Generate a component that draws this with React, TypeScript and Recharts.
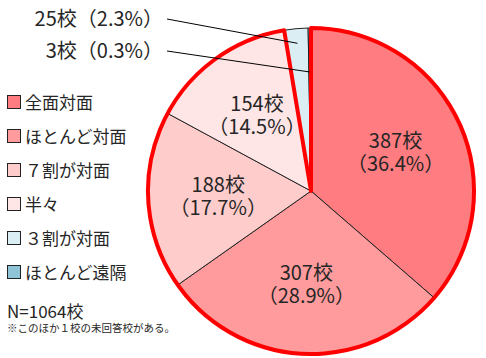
import React from "react";
import { PieChart, Pie, Cell } from "recharts";

const categories = ["全面対面", "ほとんど対面", "７割が対面", "半々", "３割が対面", "ほとんど遠隔"];
const counts = [387, 307, 188, 154, 25, 3];
const percents = ["36.4", "28.9", "17.7", "14.5", "2.3", "0.3"];
const colors = ["#FF7C80", "#FF9B9C", "#FFCCCC", "#FFE6E6", "#DAEEF3", "#8FC4D6"];
const total = 1064;
const note = "※このほか１校の未回答校がある。";

const data = categories.map((name, i) => ({
  name,
  value: counts[i],
  pct: percents[i],
  fill: colors[i],
}));

// red outline wraps the four "mostly face-to-face" slices as one group
const groupData = [
  { name: "対面系", value: counts.slice(0, 4).reduce((a, b) => a + b, 0) },
  { name: "遠隔系", value: counts.slice(4).reduce((a, b) => a + b, 0) },
];

const RADIAN = Math.PI / 180;
const FONT = "'Noto Sans CJK JP', 'Noto Sans', sans-serif";

const renderLabel = ({ cx, cy, midAngle, outerRadius, index, value, payload }: any) => {
  const txt = "#262626";
  if (index < 4) {
    const r = outerRadius * 0.57;
    const x = cx + r * Math.cos(-midAngle * RADIAN);
    const y = cy + r * Math.sin(-midAngle * RADIAN);
    return (
      <g>
        <text x={x} y={y - 4} fill={txt} textAnchor="middle" fontSize={20} fontFamily={FONT}>
          {`${value}校`}
        </text>
        <text x={x} y={y + 19} fill={txt} textAnchor="middle" fontSize={20} fontFamily={FONT}>
          {`（${payload.pct}%）`}
        </text>
      </g>
    );
  }
  // small slices: label sits up-left with a leader line
  const k = index - 4;
  const r = outerRadius * (k === 0 ? 0.91 : 0.73);
  const ex = cx + r * Math.cos(-midAngle * RADIAN);
  const ey = cy + r * Math.sin(-midAngle * RADIAN);
  const tx = cx - 146;
  const ty = cy - 172 + k * 32;
  return (
    <g>
      <line x1={tx + 2} y1={ty} x2={ex} y2={ey} stroke="#000" strokeWidth={1} />
      <text x={tx - 2} y={ty + 7} fill={txt} textAnchor="end" fontSize={20} fontFamily={FONT}>
        {`${value}校（${payload.pct}%）`}
      </text>
    </g>
  );
};

const LegendBox = () => (
  <div style={{ position: "absolute", left: 7, top: 85, fontFamily: FONT, color: "#262626" }}>
    {data.map((d, i) => (
      <div key={i} style={{ display: "flex", alignItems: "center", height: 34 }}>
        <div
          style={{
            width: 12,
            height: 12,
            background: d.fill,
            border: "1px solid #222",
            marginRight: 4,
          }}
        />
        <span style={{ fontSize: 17, lineHeight: "20px" }}>{d.name}</span>
      </div>
    ))}
    <div style={{ fontSize: 17, marginTop: 12, lineHeight: "20px" }}>{`N=${total}校`}</div>
    <div style={{ fontSize: 10.5, lineHeight: "14px", whiteSpace: "nowrap" }}>{note}</div>
  </div>
);

export default function App() {
  return (
    <div style={{ position: "absolute", left: 0, top: 0, width: 486, height: 358, background: "#fff" }}>
      <PieChart width={486} height={358} margin={{ top: 0, right: 0, bottom: 0, left: 0 }}>
        <Pie
          data={data}
          dataKey="value"
          cx={311}
          cy={191}
          outerRadius={163}
          startAngle={90}
          endAngle={-270}
          stroke="#222"
          strokeWidth={1}
          labelLine={false}
          label={renderLabel}
          isAnimationActive={false}
        >
          {data.map((d, i) => (
            <Cell key={i} fill={d.fill} />
          ))}
        </Pie>
        <Pie
          data={groupData}
          dataKey="value"
          cx={311}
          cy={191}
          outerRadius={163}
          startAngle={90}
          endAngle={-270}
          isAnimationActive={false}
        >
          <Cell fill="none" stroke="#FF0000" strokeWidth={4} strokeLinejoin="round" />
          <Cell fill="none" stroke="none" />
        </Pie>
      </PieChart>
      <LegendBox />
    </div>
  );
}
